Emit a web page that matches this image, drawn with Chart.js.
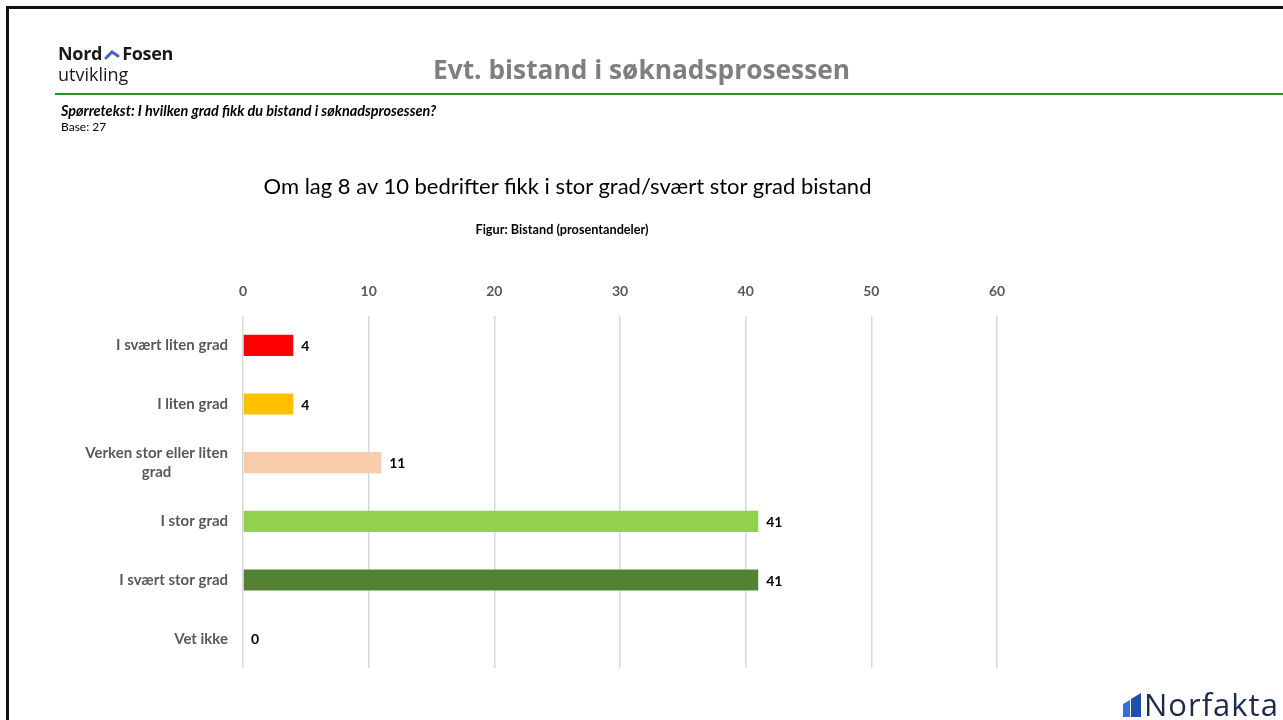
<!DOCTYPE html>
<html>
<head>
<meta charset="utf-8">
<script src="https://cdn.jsdelivr.net/npm/chart.js@4"></script>
<style>
  html, body { margin: 0; padding: 0; background: #fff; }
  #page { position: relative; width: 1283px; height: 720px; overflow: hidden; font-family: Lato, "Open Sans", sans-serif; }
  #frame { position: absolute; left: 6px; top: 6px; width: 1300px; height: 730px; border-left: 3px solid #111; border-top: 3px solid #111; }
  #canvas-container { position: absolute; left: 0; top: 0; width: 1283px; height: 720px; }
  .abs { position: absolute; white-space: nowrap; }
  #logo1 { left: 58px; top: 41px; font-size: 18px; font-weight: bold; color: #1a1a1a; font-family: "Open Sans", sans-serif; letter-spacing: -0.3px; }
  #logo2 { left: 58px; top: 62px; font-size: 18px; color: #1a1a1a; font-family: "Open Sans", sans-serif; }
  #title { left: 0; width: 1283px; text-align: center; top: 51px; font-size: 26.3px; font-weight: bold; color: #7f7f7f; font-family: "Open Sans", sans-serif; }
  #rule { position: absolute; left: 55px; top: 93px; width: 1240px; height: 2px; background: #1a9a1a; }
  #q { left: 61px; top: 102px; font-size: 14.4px; font-weight: bold; font-style: italic; color: #000; }
  #base { left: 61px; top: 119px; font-size: 12px; color: #000; }
  #sub { left: 262px; width: 611px; text-align: center; top: 172px; font-size: 22px; color: #000; }
  #fig { left: 462px; width: 200px; text-align: center; top: 221px; font-size: 12.7px; font-weight: bold; color: #000; }
  #norfakta { left: 1144px; top: 683px; font-size: 31px; font-weight: 500; color: #1d2b4a; font-family: "Open Sans", sans-serif; letter-spacing: 1px; }
</style>
</head>
<body>
<div id="page">
  <div id="frame"></div>
  <div id="canvas-container"></div>
  <div class="abs" id="logo1">Nord<svg width="18" height="12" viewBox="0 0 18 12" style="margin:0 1px"><polyline points="3,10 9,4 15,8" fill="none" stroke="#4a5fc8" stroke-width="3" stroke-linecap="round"/></svg>Fosen</div>
  <div class="abs" id="logo2">utvikling</div>
  <div class="abs" id="title">Evt. bistand i søknadsprosessen</div>
  <div id="rule"></div>
  <div class="abs" id="q">Spørretekst: I hvilken grad fikk du bistand i søknadsprosessen?</div>
  <div class="abs" id="base">Base: 27</div>
  <div class="abs" id="sub">Om lag 8 av 10 bedrifter fikk i stor grad/svært stor grad bistand</div>
  <div class="abs" id="fig">Figur: Bistand (prosentandeler)</div>
  <svg class="abs" style="left:1122px;top:692px" width="20" height="26" viewBox="0 0 20 26">
    <polygon points="1,12 8,8 8,25 1,25" fill="#2f6fd6"/>
    <polygon points="9,7 19,1 19,25 9,25" fill="#1f4fa8"/>
  </svg>
  <div class="abs" id="norfakta">Norfakta</div>
</div>
<script>
const categories = [
  'I svært liten grad',
  'I liten grad',
  ['Verken stor eller liten', 'grad'],
  'I stor grad',
  'I svært stor grad',
  'Vet ikke'
];
const shares = [4, 4, 11, 41, 41, 0];
const barColors = ['#ff0000', '#ffc000', '#f8cbad', '#92d050', '#548235', '#a5a5a5'];
const tickValues = [0, 10, 20, 30, 40, 50, 60];

const labelFont = 'bold 15px Lato, "Open Sans", sans-serif';
const valueFont = 'bold 14px Lato, "Open Sans", sans-serif';

// category labels: block right-aligned, lines centred inside the block
const categoryLabels = {
  id: 'categoryLabels',
  afterDraw(chart) {
    const ctx = chart.ctx;
    const y = chart.scales.y;
    ctx.save();
    ctx.font = labelFont;
    ctx.fillStyle = '#595959';
    ctx.textAlign = 'center';
    ctx.textBaseline = 'middle';
    const right = chart.chartArea.left - 15;
    categories.forEach((lab, i) => {
      const lines = Array.isArray(lab) ? lab : [lab];
      const w = Math.max(...lines.map(l => ctx.measureText(l).width));
      const cy = y.getPixelForValue(i);
      const lh = 19;
      lines.forEach((l, j) => {
        ctx.fillText(l, right - w / 2, cy + (j - (lines.length - 1) / 2) * lh);
      });
    });
    ctx.restore();
  }
};

// value labels at bar end
const valueLabels = {
  id: 'valueLabels',
  afterDatasetsDraw(chart) {
    const ctx = chart.ctx;
    const meta = chart.getDatasetMeta(0);
    ctx.save();
    ctx.font = valueFont;
    ctx.fillStyle = '#000';
    ctx.textAlign = 'left';
    ctx.textBaseline = 'middle';
    meta.data.forEach((bar, i) => {
      ctx.fillText(String(shares[i]), bar.x + 8, bar.y + 1);
    });
    ctx.restore();
  }
};

function createChart() {
  const canvas = document.createElement('canvas');
  canvas.id = 'chart';
  document.getElementById('canvas-container').appendChild(canvas);
  const ctx = canvas.getContext('2d');
  new Chart(ctx, {
    type: 'bar',
    data: {
      labels: categories,
      datasets: [{
        data: shares,
        backgroundColor: barColors,
        barPercentage: 0.36,
        categoryPercentage: 1
      }]
    },
    options: {
      indexAxis: 'y',
      responsive: true,
      maintainAspectRatio: false,
      animation: false,
      events: [],
      layout: { padding: { left: 0, top: 0, right: 286, bottom: 52 } },
      plugins: { legend: { display: false }, tooltip: { enabled: false } },
      scales: {
        x: {
          position: 'top',
          min: 0,
          max: 60,
          afterFit: scale => { scale.height = 316; },
          afterBuildTicks: scale => { scale.ticks = tickValues.map(v => ({ value: v })); },
          ticks: {
            color: '#595959',
            font: { family: 'Lato, "Open Sans", sans-serif', size: 14, weight: 'bold' },
            padding: 16
          },
          grid: { color: '#d9d9d9', lineWidth: 1.5, drawTicks: false },
          border: { display: false }
        },
        y: {
          afterFit: scale => { scale.width = 243; },
          ticks: { display: false },
          grid: { display: false },
          border: { display: false }
        }
      }
    },
    plugins: [categoryLabels, valueLabels]
  });
}

createChart();
</script>
</body>
</html>
